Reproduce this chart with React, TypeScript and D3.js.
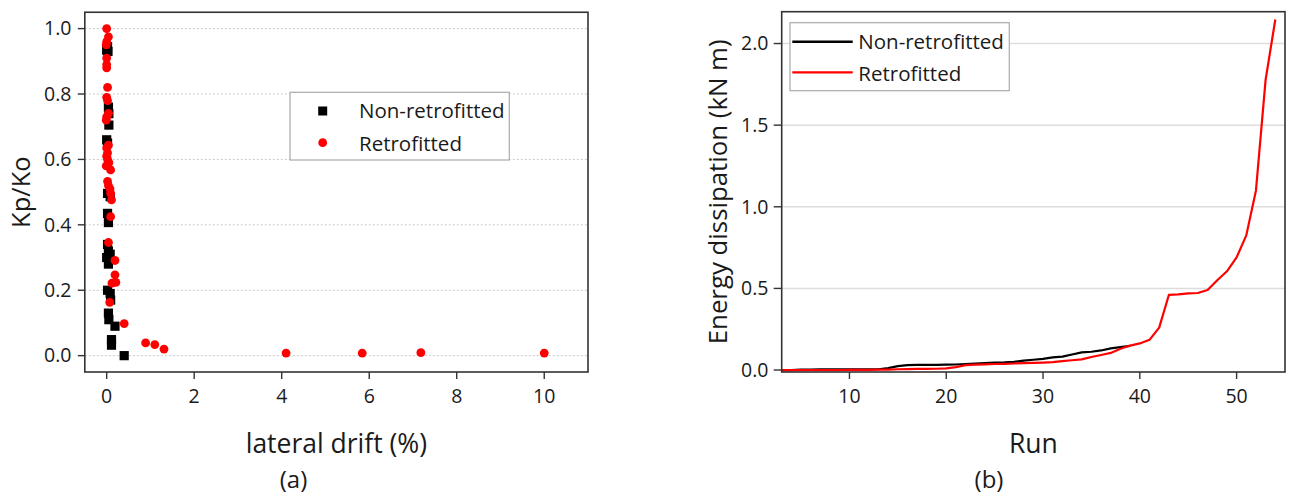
import React from "react";
import * as d3 from "d3";

// ---------- Panel (a) data ----------
const nonRetroDrift = [0.0, 0.03, 0.02, 0.04, 0.05, 0.05, 0.0, 0.02, 0.02, 0.08, 0.02, 0.04, 0.02, 0.04, 0.0, 0.08, 0.04, 0.02, 0.08, 0.09, 0.04, 0.05, 0.19, 0.11, 0.11, 0.4];
const nonRetroKp = [0.934, 0.93, 0.945, 0.76, 0.74, 0.705, 0.66, 0.65, 0.496, 0.486, 0.435, 0.407, 0.34, 0.32, 0.3, 0.31, 0.28, 0.2, 0.19, 0.17, 0.13, 0.11, 0.09, 0.049, 0.032, 0.0];
const retroDrift = [0, 0.04, 0, -0.01, 0, 0, 0, 0.02, 0, 0.02, 0.04, 0, -0.01, 0.04, 0, 0.02, 0, 0.02, 0.05, -0.01, 0.09, 0.02, 0.04, 0.075, 0.09, 0.11, 0.09, 0.04, 0.19, 0.19, 0.21, 0.12, 0.07, 0.4, 0.89, 1.1, 1.31, 4.1, 5.84, 7.18, 10.0];
const retroKp = [1.0, 0.975, 0.96, 0.95, 0.91, 0.89, 0.88, 0.82, 0.79, 0.78, 0.741, 0.73, 0.72, 0.644, 0.635, 0.62, 0.61, 0.6, 0.59, 0.58, 0.568, 0.533, 0.52, 0.51, 0.496, 0.476, 0.425, 0.346, 0.291, 0.247, 0.224, 0.222, 0.163, 0.098, 0.039, 0.034, 0.02, 0.008, 0.008, 0.009, 0.008];
const xTicksA = [0, 2, 4, 6, 8, 10];
const yTicksA = [0, 0.2, 0.4, 0.6, 0.8, 1.0];

// ---------- Panel (b) data ----------
const runsNon = [3, 4, 5, 6, 7, 8, 9, 10, 11, 12, 13, 14, 15, 16, 17, 18, 19, 20, 21, 22, 23, 24, 25, 26, 27, 28, 29, 30, 31, 32, 33, 34, 35, 36, 37, 38, 39];
const energyNon = [0, 0, 0.002, 0.003, 0.004, 0.004, 0.004, 0.004, 0.004, 0.004, 0.005, 0.012, 0.024, 0.03, 0.032, 0.032, 0.032, 0.033, 0.034, 0.037, 0.04, 0.043, 0.046, 0.047, 0.05, 0.058, 0.063, 0.068, 0.078, 0.082, 0.095, 0.108, 0.112, 0.12, 0.133, 0.14, 0.148];
const runsRetro = [3, 4, 5, 6, 7, 8, 9, 10, 11, 12, 13, 14, 15, 16, 17, 18, 19, 20, 21, 22, 23, 24, 25, 26, 27, 28, 29, 30, 31, 32, 33, 34, 35, 36, 37, 38, 39, 40, 41, 42, 43, 44, 45, 46, 47, 48, 49, 50, 51, 52, 53, 54];
const energyRetro = [0, 0, 0, 0, 0, 0, 0, 0.001, 0.001, 0.001, 0.002, 0.003, 0.005, 0.006, 0.007, 0.007, 0.008, 0.01, 0.018, 0.03, 0.033, 0.035, 0.037, 0.038, 0.04, 0.042, 0.044, 0.046, 0.048, 0.055, 0.06, 0.065, 0.08, 0.092, 0.105, 0.13, 0.15, 0.163, 0.185, 0.26, 0.46, 0.463, 0.47, 0.472, 0.49, 0.55, 0.605, 0.69, 0.825, 1.1, 1.78, 2.147];
const xTicksB = [10, 20, 30, 40, 50];
const yTicksB = [0, 0.5, 1.0, 1.5, 2.0];

const FONT = "'Open Sans', sans-serif";
const TXT = "#1a1a1a";

export default function App() {
  // Panel a scales
  const xa = d3.scaleLinear().domain([-0.5, 11]).range([84.8, 588]);
  const ya = d3.scaleLinear().domain([-0.05, 1.05]).range([372, 12.25]);
  // Panel b scales
  const xb = d3.scaleLinear().domain([3, 55]).range([781.7, 1285]);
  const yb = d3.scaleLinear().domain([-0.012, 2.195]).range([372, 11.7]);

  const lineB = d3
    .line<[number, number]>()
    .x((d) => xb(d[0]))
    .y((d) => yb(d[1]));
  const nonPts: [number, number][] = runsNon.map((r, i) => [r, energyNon[i]]);
  const retroPts: [number, number][] = runsRetro.map((r, i) => [r, energyRetro[i]]);

  const [ax0, ax1] = xa.range();
  const [ay0, ay1] = [ya.range()[1], ya.range()[0]];
  const [bx0, bx1] = xb.range();
  const [by0, by1] = [yb.range()[1], yb.range()[0]];

  return (
    <svg
      width={1294}
      height={498}
      style={{ position: "absolute", left: 0, top: 0, background: "#fff" }}
      fontFamily={FONT}
    >
      <rect x={0} y={0} width={1294} height={498} fill="#fff" />
      {/* ---------------- Panel (a) ---------------- */}
      <g>
        {yTicksA.map((t) => (
          <line
            key={"ga" + t}
            x1={ax0}
            x2={ax1}
            y1={ya(t)}
            y2={ya(t)}
            stroke="#c8c8c8"
            strokeWidth={1}
            strokeDasharray="2,2"
          />
        ))}
        {/* legend */}
        <rect x={290} y={92.3} width={219.3} height={67.7} fill="#fff" stroke="#aaaaaa" strokeWidth={1.2} />
        <rect x={322.7 - 4.5} y={111 - 4.5} width={9} height={9} fill="#000" />
        <circle cx={322.7} cy={142.7} r={4.4} fill="#ff0000" />
        <text x={359} y={118} fontSize={20.5} fill={TXT}>Non-retrofitted</text>
        <text x={359} y={150.5} fontSize={20.5} fill={TXT}>Retrofitted</text>

        {nonRetroDrift.map((d, i) => (
          <rect
            key={"s" + i}
            x={xa(d) - 4.6}
            y={ya(nonRetroKp[i]) - 4.6}
            width={9.2}
            height={9.2}
            fill="#000"
          />
        ))}
        {retroDrift.map((d, i) => (
          <circle key={"c" + i} cx={xa(d)} cy={ya(retroKp[i])} r={4.4} fill="#ff0000" />
        ))}

        <rect x={ax0} y={ay0} width={ax1 - ax0} height={ay1 - ay0} fill="none" stroke="#333" strokeWidth={1.6} />
        {xTicksA.map((t) => (
          <g key={"xa" + t}>
            <line x1={xa(t)} x2={xa(t)} y1={ay1} y2={ay1 + 7} stroke="#333" strokeWidth={1.4} />
            <text x={xa(t)} y={402.7} fontSize={19.5} textAnchor="middle" fill={TXT}>
              {d3.format("d")(t)}
            </text>
          </g>
        ))}
        {yTicksA.map((t) => (
          <g key={"ya" + t}>
            <line x1={ax0 - 7} x2={ax0} y1={ya(t)} y2={ya(t)} stroke="#333" strokeWidth={1.4} />
            <text x={71.5} y={ya(t)} dy="0.35em" fontSize={19.5} textAnchor="end" fill={TXT}>
              {d3.format(".1f")(t)}
            </text>
          </g>
        ))}
        <text x={(ax0 + ax1) / 2} y={452.7} fontSize={26.5} textAnchor="middle" fill={TXT}>
          lateral drift (%)
        </text>
        <text x={293.5} y={488} fontSize={24} textAnchor="middle" fill={TXT}>
          (a)
        </text>
        <text
          transform={`translate(29.5, ${(ay0 + ay1) / 2}) rotate(-90)`}
          fontSize={25.5}
          textAnchor="middle"
          fill={TXT}
        >
          Kp/Ko
        </text>
      </g>

      {/* ---------------- Panel (b) ---------------- */}
      <g>
        {yTicksB
          .filter((t) => t > 0)
          .map((t) => (
            <line
              key={"gb" + t}
              x1={bx0}
              x2={bx1}
              y1={yb(t)}
              y2={yb(t)}
              stroke="#dddddd"
              strokeWidth={1.5}
            />
          ))}
        <path d={lineB(nonPts) || ""} fill="none" stroke="#000" strokeWidth={2.2} strokeLinejoin="round" />
        <path d={lineB(retroPts) || ""} fill="none" stroke="#ff0000" strokeWidth={2.2} strokeLinejoin="round" />

        {/* legend */}
        <rect x={790} y={22.7} width={219.3} height={68} fill="#fff" stroke="#aaaaaa" strokeWidth={1.2} />
        <line x1={792.3} x2={852.7} y1={41.7} y2={41.7} stroke="#000" strokeWidth={2.6} />
        <line x1={792.3} x2={852.7} y1={72.3} y2={72.3} stroke="#ff0000" strokeWidth={2.2} />
        <text x={858.3} y={49} fontSize={20.5} fill={TXT}>Non-retrofitted</text>
        <text x={858.3} y={80.7} fontSize={20.5} fill={TXT}>Retrofitted</text>

        <rect x={bx0} y={by0} width={bx1 - bx0} height={by1 - by0} fill="none" stroke="#333" strokeWidth={1.6} />
        {xTicksB.map((t) => (
          <g key={"xb" + t}>
            <line x1={xb(t)} x2={xb(t)} y1={by1} y2={by1 + 7} stroke="#333" strokeWidth={1.4} />
            <text x={xb(t)} y={402.7} fontSize={19.5} textAnchor="middle" fill={TXT}>
              {d3.format("d")(t)}
            </text>
          </g>
        ))}
        {yTicksB.map((t) => (
          <g key={"yb" + t}>
            <line x1={bx0 - 8} x2={bx0} y1={yb(t)} y2={yb(t)} stroke="#333" strokeWidth={1.4} />
            <text x={768.5} y={yb(t)} dy="0.35em" fontSize={19.5} textAnchor="end" fill={TXT}>
              {d3.format(".1f")(t)}
            </text>
          </g>
        ))}
        <text x={(bx0 + bx1) / 2} y={452.7} fontSize={26.5} textAnchor="middle" fill={TXT}>
          Run
        </text>
        <text x={989} y={488} fontSize={24} textAnchor="middle" fill={TXT}>
          (b)
        </text>
        <text
          transform={`translate(727, ${(by0 + by1) / 2}) rotate(-90)`}
          fontSize={25.8}
          textAnchor="middle"
          fill={TXT}
        >
          Energy dissipation (kN m)
        </text>
      </g>
    </svg>
  );
}
